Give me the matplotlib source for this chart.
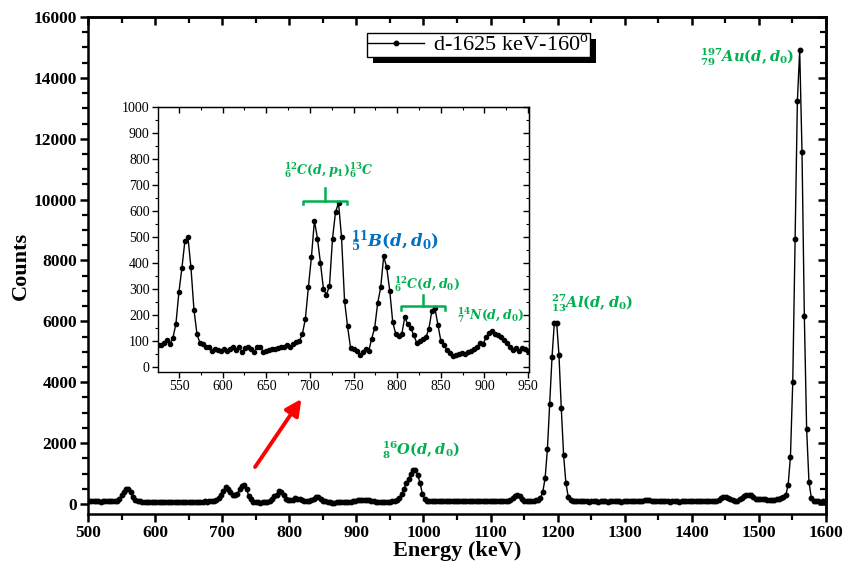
import numpy as np
import matplotlib
matplotlib.use("Agg")
import matplotlib.pyplot as plt
from matplotlib.patches import Rectangle
from matplotlib.ticker import MultipleLocator

plt.rcParams['font.family'] = ['Liberation Serif', 'DejaVu Serif']
plt.rcParams['mathtext.fontset'] = 'custom'
plt.rcParams['mathtext.rm'] = 'DejaVu Serif:bold'
plt.rcParams['mathtext.it'] = 'DejaVu Serif:italic:bold'
plt.rcParams['mathtext.bf'] = 'DejaVu Serif:bold'

# channel calibration (keV)
e_start = 501.65
e_step = 3.45

counts_500_523 = [85, 90, 82, 88, 92, 80, 86]
counts_526_950 = [83, 83, 92, 105, 88, 112, 165, 288, 381, 486,
                  499, 383, 220, 127, 92, 88, 77, 76, 60, 70,
                  67, 60, 69, 63, 69, 79, 67, 77, 56, 73,
                  76, 69, 58, 77, 79, 58, 63, 67, 70, 70,
                  73, 76, 79, 83, 76, 88, 96, 99, 127, 186,
                  308, 423, 563, 494, 400, 300, 278, 313, 494, 596,
                  631, 499, 255, 156, 73, 70, 63, 45, 58, 70,
                  60, 109, 150, 246, 306, 426, 383, 294, 173, 127,
                  118, 127, 191, 165, 150, 122, 92, 101, 109, 114,
                  147, 217, 227, 163, 99, 83, 67, 54, 44, 47,
                  50, 54, 50, 58, 60, 71, 79, 92, 88, 115,
                  131, 137, 127, 122, 114, 105, 92, 79, 67, 73,
                  63, 73, 71, 63]
counts_954_1006 = [85, 95, 130, 200, 330, 500, 680, 820, 1000, 1110,
                   1130, 950, 680, 330, 170, 110]
counts_1009_1126 = [100, 92, 88, 90, 85, 88, 86, 84, 88, 86,
                    88, 90, 85, 88, 90, 86, 84, 88, 86, 84,
                    88, 85, 84, 86, 88, 86, 88, 90, 92, 90,
                    94, 96, 98, 100, 105]
counts_1130_1223 = [120, 180, 270, 310, 260, 170, 110, 95, 92, 96,
                    100, 115, 140, 200, 393, 842, 1793, 3300, 4830, 5958,
                    5958, 4885, 3138, 1607, 679, 240, 130, 100]
counts_1226_1433 = [95, 88, 84, 86, 82, 85, 80, 84, 82, 86,
                    80, 83, 85, 82, 80, 84, 86, 82, 85, 83,
                    80, 84, 82, 86, 84, 88, 92, 98, 105, 112,
                    118, 120, 116, 110, 104, 98, 92, 88, 85, 82,
                    84, 80, 83, 85, 82, 80, 84, 82, 86, 84,
                    82, 85, 88, 86, 84, 88, 90, 92, 95, 98,
                    104]
counts_1437_1599 = [110, 140, 190, 230, 240, 210, 160, 120, 105, 110,
                    150, 200, 250, 285, 300, 280, 220, 175, 160, 165,
                    170, 160, 140, 130, 130, 140, 150, 165, 190, 230,
                    295, 620, 1550, 4010, 8690, 13250, 14900, 11550, 6175, 2450,
                    730, 210, 110, 90, 85, 80, 85, 80]

counts = np.array(counts_500_523 + counts_526_950 + counts_954_1006 + counts_1009_1126
                  + counts_1130_1223 + counts_1226_1433 + counts_1437_1599, dtype=float)
energy = e_start + e_step * np.arange(len(counts))

legend_label = 'd-1625 keV-160$^\\mathregular{o}$'
green = '#00B050'
blue = '#0070C0'

W, H = 846, 567
fig = plt.figure(figsize=(W / 100, H / 100), dpi=100)
ax = fig.add_axes([88 / W, 1 - 514 / H, (826 - 88) / W, (514 - 17) / H])

ax.plot(energy, counts, '-', color='black', lw=1.0, marker='o', ms=3.2,
        label=legend_label, zorder=3)
ax.set_xlim(500, 1600)
ax.set_ylim(-330, 16000)
ax.xaxis.set_major_locator(MultipleLocator(100))
ax.xaxis.set_minor_locator(MultipleLocator(50))
ax.yaxis.set_major_locator(MultipleLocator(2000))
ax.yaxis.set_minor_locator(MultipleLocator(500))
for s in ax.spines.values():
    s.set_linewidth(1.8)
ax.tick_params(axis='both', which='major', direction='out', length=6, width=1.8,
               labelsize=12.5, pad=2)
ax.tick_params(axis='both', which='minor', direction='out', length=4, width=1.6)
for lab in ax.get_xticklabels() + ax.get_yticklabels():
    lab.set_fontweight('bold')
ax.set_xlabel('Energy (keV)', fontsize=16, fontweight='bold', labelpad=0)
ax.set_ylabel('Counts', fontsize=16, fontweight='bold', labelpad=2)

# right / top inward ticks
secy = ax.secondary_yaxis('right')
secy.yaxis.set_major_locator(MultipleLocator(2000))
secy.yaxis.set_minor_locator(MultipleLocator(500))
secy.tick_params(which='major', direction='in', length=6, width=1.8, labelright=False)
secy.tick_params(which='minor', direction='in', length=4, width=1.6)
secy.spines['right'].set_linewidth(1.8)
secx = ax.secondary_xaxis('top')
secx.xaxis.set_major_locator(MultipleLocator(100))
secx.xaxis.set_minor_locator(MultipleLocator(50))
secx.tick_params(which='major', direction='in', length=6, width=1.8, labeltop=False)
secx.tick_params(which='minor', direction='in', length=4, width=1.6)
secx.spines['top'].set_linewidth(1.8)

ax.text(1483, 14660, r'${}^{197}_{79}Au(d,d_0)$', color=green, fontsize=10.5,
        ha='center', va='center')
ax.text(1252, 6590, r'${}^{27}_{13}Al(d,d_0)$', color=green, fontsize=10.5,
        ha='center', va='center')
ax.text(996, 1770, r'${}^{16}_{8}O(d,d_0)$', color=green, fontsize=10.5,
        ha='center', va='center')

ax.annotate('', xy=(818, 3450), xytext=(749, 1213),
            arrowprops=dict(arrowstyle='-|>', color='red', lw=2.8,
                            mutation_scale=24, shrinkA=0, shrinkB=0))

leg = ax.legend(loc='upper left', bbox_to_anchor=(367 / W, 1 - 33 / H),
                bbox_transform=fig.transFigure, fancybox=False, frameon=True,
                edgecolor='black', framealpha=1, fontsize=16, borderpad=0.05,
                handlelength=2.5, handletextpad=0.4, borderaxespad=0)
leg.get_frame().set_linewidth(1.0)
leg.set_zorder(10)

# inset
axi = fig.add_axes([158 / W, 1 - 372 / H, (529 - 158) / W, (372 - 107) / H])
axi.plot(energy, counts, '-', color='black', lw=1.0, marker='o', ms=3.0)
axi.set_xlim(526, 951)
axi.set_ylim(-19, 1000)
axi.xaxis.set_major_locator(MultipleLocator(50))
axi.xaxis.set_minor_locator(MultipleLocator(25))
axi.yaxis.set_major_locator(MultipleLocator(100))
axi.yaxis.set_minor_locator(MultipleLocator(50))
for s in axi.spines.values():
    s.set_linewidth(1.0)
axi.tick_params(axis='both', which='major', direction='out', length=4, width=1.0,
                labelsize=10, pad=2)
axi.tick_params(axis='both', which='minor', direction='out', length=2.5, width=0.8)
isy = axi.secondary_yaxis('right')
isy.yaxis.set_major_locator(MultipleLocator(100))
isy.yaxis.set_minor_locator(MultipleLocator(50))
isy.tick_params(which='major', direction='in', length=4, width=1.0, labelright=False)
isy.tick_params(which='minor', direction='in', length=2.5, width=0.8)
isx = axi.secondary_xaxis('top')
isx.xaxis.set_major_locator(MultipleLocator(50))
isx.xaxis.set_minor_locator(MultipleLocator(25))
isx.tick_params(which='major', direction='in', length=4, width=1.0, labeltop=False)
isx.tick_params(which='minor', direction='in', length=2.5, width=0.8)

# brackets
axi.plot([692.4, 692.4, 742, 742], [627, 640, 640, 627], color=green, lw=1.8)
axi.plot([717.2, 717.2], [640, 688], color=green, lw=1.8)
axi.plot([804.2, 804.2, 854.6, 854.6], [220, 236, 236, 220], color=green, lw=1.8)
axi.plot([829.8, 829.8], [236, 278], color=green, lw=1.8)

axi.text(722, 755, r'${}^{12}_{6}C(d,p_1){}^{13}_{6}C$', color=green, fontsize=9,
         ha='center', va='center')
axi.text(797, 483, r'${}^{11}_{5}B(d,d_0)$', color=blue, fontsize=12,
         ha='center', va='center')
axi.text(834, 319, r'${}^{12}_{6}C(d,d_0)$', color=green, fontsize=9,
         ha='center', va='center')
axi.text(907, 199, r'${}^{14}_{7}N(d,d_0)$', color=green, fontsize=9,
         ha='center', va='center')

fig.canvas.draw()
bb = leg.get_window_extent()
shadow = Rectangle((bb.x0 + 6, bb.y0 - 6), bb.width, bb.height, transform=None,
                   facecolor='black', edgecolor='none', zorder=9, clip_on=False)
ax.add_artist(shadow)

fig.savefig('out.png', dpi=100)
